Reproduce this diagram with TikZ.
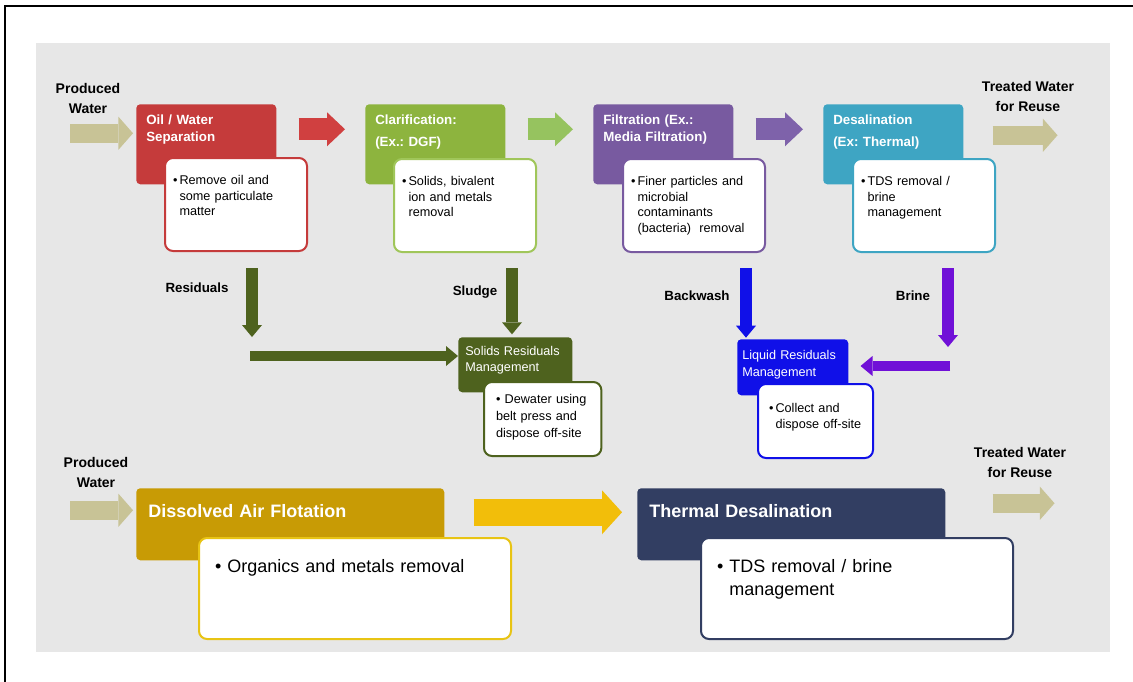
\documentclass[tikz,border=0pt]{standalone}
\usepackage{fontspec}
\setmainfont{Liberation Sans}
\usepackage{tikz}
\usetikzlibrary{arrows.meta,positioning}
\frenchspacing

\definecolor{panelgray}{RGB}{231,231,231}
\definecolor{khaki}{RGB}{200,195,150}
\definecolor{oilred}{RGB}{197,59,59}
\definecolor{redarrow}{RGB}{208,64,64}
\definecolor{clargreen}{RGB}{141,180,62}
\definecolor{greenedge}{RGB}{160,198,90}
\definecolor{greenarrow}{RGB}{150,195,95}
\definecolor{filtpurple}{RGB}{120,90,160}
\definecolor{purplearrow}{RGB}{126,98,170}
\definecolor{desalteal}{RGB}{62,165,195}
\definecolor{solidolive}{RGB}{78,98,30}
\definecolor{liquidblue}{RGB}{16,16,232}
\definecolor{brineviolet}{RGB}{112,16,215}
\definecolor{dafgold}{RGB}{200,155,5}
\definecolor{goldedge}{RGB}{232,196,20}
\definecolor{yellowarrow}{RGB}{242,190,10}
\definecolor{thermalnavy}{RGB}{50,62,98}

\newcommand{\dotitem}{•\,}
\newcommand{\dotgap}{\hphantom{•\,}}

\begin{document}
\begin{tikzpicture}[x=0.75pt, y=-0.75pt,
  stage/.style={rectangle, fill=#1, rounded corners=3pt, anchor=north west,
                align=left, text=white, inner ysep=0pt},
  detail/.style={rectangle, draw=#1, fill=white, line width=1.5pt,
                 rounded corners=6pt, anchor=north west, align=left, inner ysep=0pt},
  topstage/.style={stage=#1, inner xsep=7.5pt, text width=90pt,
                   text height=15pt, text depth=45pt,
                   font=\bfseries\fontsize{10}{13}\selectfont},
  topdetail/.style={detail=#1, inner xsep=6pt, text width=94.5pt,
                    text height=20pt, text depth=49.75pt,
                    font=\fontsize{9.5}{11.6}\selectfont},
  botstage/.style={stage=#1, inner xsep=9pt, text width=213pt,
                   text height=21.75pt, text depth=32.25pt,
                   font=\bfseries\fontsize{13.5}{16}\selectfont},
  botdetail/.style={detail=#1, inner xsep=12pt, text width=210pt,
                    text height=25.5pt, text depth=50.25pt,
                    font=\fontsize{13.5}{17.25}\selectfont},
  flowtag/.style={font=\bfseries\fontsize{10.5}{15}\selectfont, align=center},
  inarrow/.style={line width=14pt, -{Triangle[length=11pt, width=25pt, line width=0pt]}},
  fatarrow/.style={line width=16.5pt, -{Triangle[length=13.5pt, width=25.5pt, line width=0pt]}},
  thinarrow/.style={line width=9pt, -{Triangle[length=9pt, width=15pt, line width=0pt]}},
  widearrow/.style={line width=20pt, -{Triangle[length=15pt, width=33pt, line width=0pt]}}
]
  \useasboundingbox (0,0) rectangle (1133,682);
  \draw[line width=1.5pt] (5,682) -- (5,6) -- (1133,6);
  \fill[panelgray] (36,43) rectangle (1110,652);

  % top process train
  \node[topstage=oilred] (oil) at (136,104) {Oil / Water\\Separation};
  \node[topstage=clargreen] (clar) at (365,104) {Clarification:\\[4pt](Ex.: DGF)};
  \node[topstage=filtpurple] (filt) at (593,104) {Filtration (Ex.:\\Media Filtration)};
  \node[topstage=desalteal] (desal) at (823,104) {Desalination\\[4pt](Ex: Thermal)};

  \node[topdetail=oilred] (oilD) at ([shift={(28,53)}]oil.north west)
    {\dotitem Remove oil and\\\dotgap some particulate\\\dotgap matter};
  \node[topdetail=greenedge] (clarD) at ([shift={(28,54)}]clar.north west)
    {\dotitem Solids, bivalent\\\dotgap ion and metals\\\dotgap removal};
  \node[topdetail=filtpurple] (filtD) at ([shift={(29,54)}]filt.north west)
    {\dotitem Finer particles and\\\dotgap microbial\\\dotgap contaminants\\\dotgap (bacteria)\ \ removal};
  \node[topdetail=desalteal] (desalD) at ([shift={(29,54)}]desal.north west)
    {\dotitem TDS removal /\\\dotgap brine\\\dotgap management};

  \node[flowtag] (inTop) at (88,98) {Produced\\Water};
  \node[flowtag] (outTop) at (1028,96) {Treated Water\\for Reuse};

  \draw[inarrow, khaki] ([shift={(-66,-11)}]oil.west) -- ([shift={(-3,-11)}]oil.west);
  \draw[fatarrow, redarrow] ([shift={(22,-15)}]oil.east) -- ([shift={(-20,-15)}]clar.west);
  \draw[fatarrow, greenarrow] ([shift={(22,-15)}]clar.east) -- ([shift={(-20,-15)}]filt.west);
  \draw[fatarrow, purplearrow] ([shift={(22,-15)}]filt.east) -- ([shift={(-20,-15)}]desal.west);
  \draw[inarrow, khaki] ([shift={(29,-9)}]desal.east) -- ([shift={(94,-9)}]desal.east);

  % residuals
  \node[stage=solidolive, inner xsep=5.25pt, text width=75pt, text height=13.5pt,
        text depth=27.75pt, font=\fontsize{9.5}{12}\selectfont] (solids) at (458,337)
    {Solids Residuals\\Management};
  \node[detail=solidolive, inner xsep=9pt, text width=70pt, text height=15.75pt,
        text depth=39.75pt, font=\fontsize{9.5}{13}\selectfont] (solidsD)
    at ([shift={(25,44)}]solids.north west)
    {• Dewater using\\belt press and\\dispose off-site};
  \node[stage=liquidblue, inner xsep=3.75pt, text width=75.75pt, text height=15pt,
        text depth=27pt, font=\fontsize{9.5}{12.75}\selectfont] (liquid) at (737,339)
    {Liquid Residuals\\Management};
  \node[detail=liquidblue, inner xsep=8.25pt, text width=69.75pt, text height=21pt,
        text depth=34.5pt, font=\fontsize{9.5}{12}\selectfont] (liquidD)
    at ([shift={(20,44)}]liquid.north west)
    {\dotitem Collect and\\\dotgap dispose off-site};

  \node[flowtag, font=\bfseries\fontsize{10}{12}\selectfont] (resTag) at (197,288) {Residuals};
  \node[flowtag, font=\bfseries\fontsize{10}{12}\selectfont] (sludgeTag) at (475,292) {Sludge};
  \node[flowtag, font=\bfseries\fontsize{10}{12}\selectfont] (bwTag) at (697,296) {Backwash};
  \node[flowtag, font=\bfseries\fontsize{10}{12}\selectfont] (brineTag) at (913,296) {Brine};

  \coordinate (resTop) at (252,268);
  \coordinate (resBot) at (252,337);
  \coordinate (resTurn) at (250,356);
  \coordinate (slTop) at (512,268);
  \coordinate (bwTop) at (746,268);
  \coordinate (brTop) at (948,268);
  \coordinate (brBot) at (948,347);
  \coordinate (brTurn) at (950,366);

  \draw[thinarrow, solidolive] (resTop) -- (resBot);
  \draw[thinarrow, solidolive, line width=7.5pt] (resTurn) -- (resTurn -| solids.west);
  \draw[thinarrow, solidolive] (slTop) -- ([yshift=2pt]slTop |- solids.north);
  \draw[thinarrow, liquidblue] (bwTop) -- ([yshift=1pt]bwTop |- liquid.north);
  \draw[thinarrow, brineviolet] (brTop) -- (brBot);
  \draw[thinarrow, brineviolet, line width=7.5pt] (brTurn) -- ([xshift=9pt]brTurn -| liquid.east);

  % alternative train
  \node[botstage=dafgold] (daf) at (136,488) {Dissolved Air Flotation};
  \node[botstage=thermalnavy] (thermal) at (637,488) {Thermal Desalination};
  \node[botdetail=goldedge] (dafD) at ([shift={(62,49)}]daf.north west)
    {•\ Organics and metals removal};
  \node[botdetail=thermalnavy] (thermalD) at ([shift={(63,49)}]thermal.north west)
    {•\ TDS removal / brine\\\hphantom{•\ }management};

  \node[flowtag] (inBot) at (96,472) {Produced\\Water};
  \node[flowtag] (outBot) at (1020,462) {Treated Water\\for Reuse};

  \draw[inarrow, khaki] ([shift={(-66,-14)}]daf.west) -- ([shift={(-3,-14)}]daf.west);
  \draw[widearrow, yellowarrow] ([shift={(29,-12)}]daf.east) -- ([shift={(-15,-12)}]thermal.west);
  \draw[inarrow, khaki] ([shift={(47,-21)}]thermal.east) -- ([shift={(109,-21)}]thermal.east);
\end{tikzpicture}
\end{document}
